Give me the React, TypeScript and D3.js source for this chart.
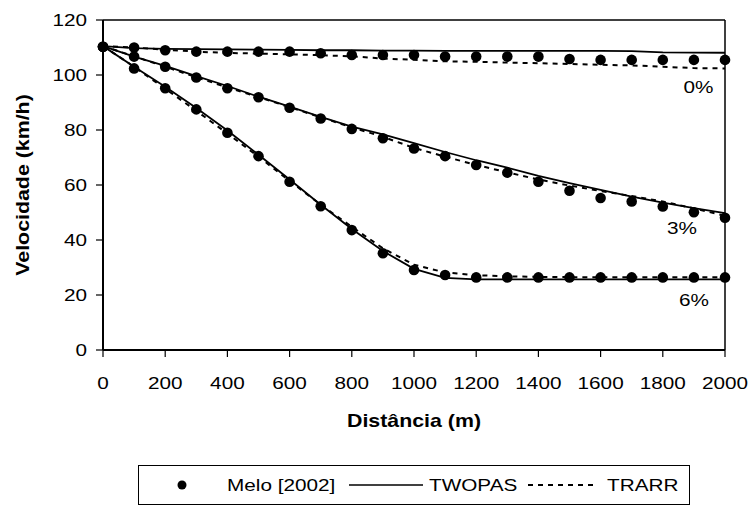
import React from 'react';
import * as d3 from 'd3';

const distances = [0, 100, 200, 300, 400, 500, 600, 700, 800, 900, 1000, 1100, 1200, 1300, 1400, 1500, 1600, 1700, 1800, 1900, 2000];

// Melo [2002] measured points
const melo0 = [110.3, 110, 109, 108.5, 108.5, 108.5, 108.5, 107.9, 107.3, 107.3, 107.3, 106.7, 106.7, 106.7, 106.7, 105.8, 105.5, 105.5, 105.5, 105.5, 105.5];
const melo3 = [110.3, 106.7, 103, 99.1, 95.2, 91.9, 88.1, 84.2, 80.4, 77, 73.3, 70.5, 67.3, 64.5, 61.2, 57.9, 55.3, 54, 52.2, 50.1, 48.1];
const melo6 = [110.3, 102.4, 95.2, 87.5, 79, 70.5, 61.2, 52.3, 43.6, 35.2, 29.1, 27.3, 26.4, 26.4, 26.4, 26.4, 26.4, 26.4, 26.4, 26.4, 26.4];

// TWOPAS simulation
const twopas0 = [110.5, 109.8, 109.5, 109.4, 109.3, 109.2, 109.1, 109, 109, 108.9, 108.9, 108.8, 108.8, 108.8, 108.8, 108.8, 108.8, 108.7, 108.2, 108.1, 108.1];
const twopas3 = [110.5, 106.7, 103.3, 99.6, 96, 92.1, 88.5, 84.8, 81.2, 78.4, 75.2, 72, 69, 66.3, 63.3, 60.7, 58.2, 55.8, 53.6, 51.6, 49.8];
const twopas6 = [110.5, 103, 95.7, 88, 79.8, 71, 62, 52.8, 44, 36, 29.5, 26.2, 25.7, 25.7, 25.7, 25.7, 25.7, 25.7, 25.7, 25.7, 25.7];

// TRARR simulation
const trarr0 = [110.5, 110, 109.2, 108.5, 108, 107.8, 107.5, 107.2, 106.8, 106, 105.5, 105, 104.8, 104.5, 104.3, 104, 103.7, 103.5, 103, 102.5, 102.4];
const trarr3 = [110.5, 106.8, 103, 99.2, 95.5, 92, 88.3, 84.6, 81, 77.5, 73.5, 70.3, 67.3, 64.6, 62, 59.8, 57.8, 56, 54, 51.5, 48.8];
const trarr6 = [110.5, 103, 95, 87, 78.7, 70.3, 61.5, 52.8, 44.8, 37, 31, 28.2, 27.2, 26.8, 26.6, 26.5, 26.5, 26.5, 26.5, 26.5, 26.5];

const xTicks = [0, 200, 400, 600, 800, 1000, 1200, 1400, 1600, 1800, 2000];
const yTicks = [0, 20, 40, 60, 80, 100, 120];

const gradeLabels = ['0%', '3%', '6%'];
const gradeLabelAt = [[1915, 93.3], [1862, 42.2], [1900, 16]];

const W = 752;
const H = 507;
const FONT = '"Liberation Sans", Arial, sans-serif';
const STRETCH = 1.22;

// text is a bit wider than plain Arial in the original, so stretch it horizontally
const Txt = ({ x, y, anchor = 'start', size = 17, bold = false, rotate = 0, children }: any) => (
  <text
    transform={`translate(${x},${y})${rotate ? ` rotate(${rotate})` : ''} scale(${STRETCH},1)`}
    textAnchor={anchor}
    fontSize={size}
    fontWeight={bold ? 'bold' : 'normal'}
    fontFamily={FONT}
    fill="#000"
  >
    {children}
  </text>
);

export default function App() {
  const x = d3.scaleLinear().domain([0, 2000]).range([103, 725]);
  const y = d3.scaleLinear().domain([0, 120]).range([350, 20]);

  const line = d3.line<number>()
    .x((_, i) => x(distances[i]))
    .y(d => y(d));

  const solid = [twopas0, twopas3, twopas6];
  const dashed = [trarr0, trarr3, trarr6];
  const dots = [melo0, melo3, melo6];

  const [x0, x1] = x.range();
  const [yb, yt] = y.range();

  return (
    <div style={{ position: 'absolute', left: 0, top: 0 }}>
      <svg width={W} height={H} style={{ display: 'block', background: '#fff' }}>
        {/* plot frame: top and right */}
        <line x1={x0} y1={yt} x2={x1} y2={yt} stroke="#000" strokeWidth={1.5} />
        <line x1={x1} y1={yt} x2={x1} y2={yb} stroke="#000" strokeWidth={1.5} />

        {/* series */}
        {dashed.map((s, i) => (
          <path key={'d' + i} d={line(s) || ''} fill="none" stroke="#000" strokeWidth={2} strokeDasharray="5,5" />
        ))}
        {solid.map((s, i) => (
          <path key={'s' + i} d={line(s) || ''} fill="none" stroke="#000" strokeWidth={1.8} />
        ))}
        {dots.map((s, i) => (
          <g key={'m' + i}>
            {s.map((v, j) => (
              <circle key={j} cx={x(distances[j])} cy={y(v)} r={5.3} fill="#000" />
            ))}
          </g>
        ))}

        {/* axes */}
        <line x1={x0} y1={yt} x2={x0} y2={yb} stroke="#000" strokeWidth={2} />
        <line x1={x0} y1={yb} x2={x1} y2={yb} stroke="#000" strokeWidth={2} />
        {yTicks.map(t => (
          <g key={'yt' + t}>
            <line x1={x0 - 7} x2={x0} y1={y(t)} y2={y(t)} stroke="#000" strokeWidth={1.2} />
            <Txt x={x0 - 16} y={y(t) + 6} anchor="end">{t}</Txt>
          </g>
        ))}
        {xTicks.map(t => (
          <g key={'xt' + t}>
            <line x1={x(t)} x2={x(t)} y1={yb} y2={yb + 7} stroke="#000" strokeWidth={1.2} />
            <Txt x={x(t)} y={389} anchor="middle">{t}</Txt>
          </g>
        ))}

        {/* grade annotations */}
        {gradeLabels.map((g, i) => (
          <Txt key={g} x={x(gradeLabelAt[i][0])} y={y(gradeLabelAt[i][1])} anchor="middle">{g}</Txt>
        ))}

        {/* axis titles */}
        <Txt x={29} y={185} anchor="middle" bold rotate={-90} size={17.5}>Velocidade (km/h)</Txt>
        <Txt x={414} y={427} anchor="middle" bold size={17.5}>Distância (m)</Txt>

        {/* legend */}
        <rect x={138.5} y={465.5} width={551} height={39} fill="#fff" stroke="#000" strokeWidth={1} />
        <circle cx={182} cy={485} r={4.5} fill="#000" />
        <Txt x={227} y={491}>Melo [2002]</Txt>
        <line x1={349} x2={423} y1={485} y2={485} stroke="#000" strokeWidth={1.5} />
        <Txt x={429} y={491}>TWOPAS</Txt>
        <line x1={528} x2={598} y1={485} y2={485} stroke="#000" strokeWidth={1.8} strokeDasharray="5,5" />
        <Txt x={607} y={491}>TRARR</Txt>
      </svg>
    </div>
  );
}
